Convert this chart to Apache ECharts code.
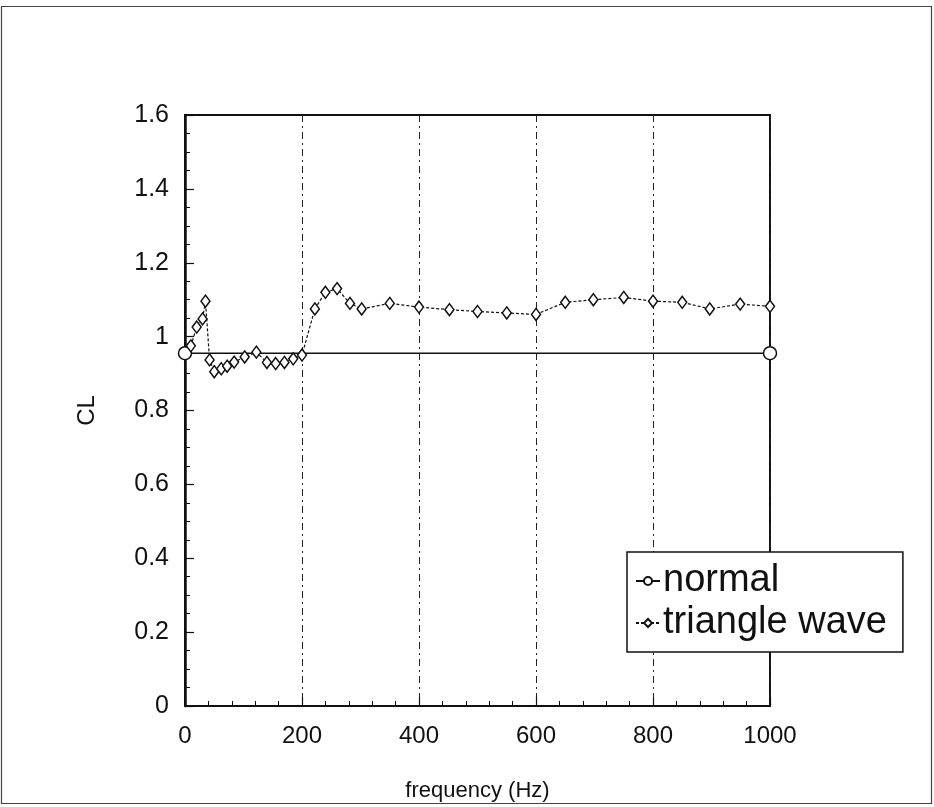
<!DOCTYPE html>
<html>
<head>
<meta charset="utf-8">
<style>html,body{margin:0;padding:0;background:#fff;}#c{width:934px;height:807px;}</style>
<script src="https://cdn.jsdelivr.net/npm/echarts@6/dist/echarts.min.js"></script>
</head>
<body>
<div id="c"></div>
<script>
const xTicks = [0, 200, 400, 600, 800, 1000];
const yTicks = [0, 0.2, 0.4, 0.6, 0.8, 1, 1.2, 1.4, 1.6];
const normalFreq = [0, 1000];
const normalCL = [0.955, 0.955];
const triFreq = [10, 20, 30, 35, 42, 50, 62, 72, 84, 102, 122, 140, 155, 170, 185, 200, 222, 240, 260, 282, 302, 350, 400, 452, 500, 550, 600, 650, 698, 750, 800, 850, 897, 949, 1000];
const triCL = [0.975, 1.026, 1.048, 1.096, 0.937, 0.905, 0.913, 0.92, 0.931, 0.945, 0.958, 0.93, 0.927, 0.93, 0.94, 0.95, 1.075, 1.12, 1.13, 1.09, 1.075, 1.09, 1.08, 1.073, 1.068, 1.064, 1.06, 1.093, 1.1, 1.106, 1.096, 1.093, 1.075, 1.088, 1.082];

const FONT = '"Liberation Sans", Arial, Helvetica, sans-serif';
const chart = echarts.init(document.getElementById('c'), null, {renderer: 'canvas'});
chart.setOption({
  backgroundColor: '#fff',
  animation: false,
  textStyle: {fontFamily: FONT, color: '#111'},
  graphic: [{
    type: 'rect', shape: {x: 1.5, y: 6.5, width: 930, height: 797},
    style: {fill: 'none', stroke: '#444', lineWidth: 1.2}, z: -10
  }],
  grid: {left: 185, right: 164, top: 115, bottom: 98, show: true, borderColor: '#111', borderWidth: 2, backgroundColor: 'transparent'},
  legend: {
    left: 627, top: 552, orient: 'vertical',
    padding: [10, 16, 10, 8], itemGap: 4,
    backgroundColor: '#fff', borderColor: '#111', borderWidth: 1.5, borderRadius: 0,
    itemWidth: 24, itemHeight: 10,
    textStyle: {fontFamily: FONT, fontSize: 38, color: '#111', padding: [0, 0, 0, -2]},
    data: ['normal', 'triangle wave']
  },
  xAxis: {
    type: 'value', min: 0, max: 1000, interval: 200,
    name: 'frequency (Hz)', nameLocation: 'middle', nameGap: 74,
    nameTextStyle: {fontFamily: FONT, fontSize: 22, color: '#111'},
    axisLine: {lineStyle: {color: '#111', width: 2}},
    axisTick: {inside: true, length: 9, lineStyle: {color: '#111', width: 1.2}},
    minorTick: {show: true, splitNumber: 5, length: 5, lineStyle: {color: '#111', width: 1}},
    axisLabel: {margin: 18, fontSize: 24, color: '#111', fontFamily: FONT,
      customValues: xTicks, formatter: v => String(v)},
    splitLine: {show: true, lineStyle: {color: '#222', width: 1, type: [7, 4, 2, 4]}}
  },
  yAxis: {
    type: 'value', min: 0, max: 1.6, interval: 0.2,
    name: 'CL', nameLocation: 'middle', nameGap: 86,
    nameTextStyle: {fontFamily: FONT, fontSize: 24, color: '#111'},
    axisLine: {show: true, lineStyle: {color: '#111', width: 2.5}},
    axisTick: {show: true, inside: true, length: 9, lineStyle: {color: '#111', width: 1.2}},
    minorTick: {show: true, splitNumber: 4, length: 5, lineStyle: {color: '#111', width: 1}},
    axisLabel: {margin: 16, fontSize: 25, color: '#111', fontFamily: FONT,
      customValues: yTicks, formatter: v => String(v)},
    splitLine: {show: false}
  },
  series: [
    {
      name: 'normal', type: 'line',
      data: normalFreq.map((f, i) => [f, normalCL[i]]),
      symbol: 'circle', symbolSize: 13, showSymbol: true,
      itemStyle: {color: '#fff', borderColor: '#111', borderWidth: 1.5},
      lineStyle: {color: '#111', width: 1.5},
      z: 3
    },
    {
      name: 'triangle wave', type: 'line',
      data: triFreq.map((f, i) => [f, triCL[i]]),
      symbol: 'diamond', symbolSize: [9, 12], showSymbol: true,
      itemStyle: {color: '#fff', borderColor: '#111', borderWidth: 1.5},
      lineStyle: {color: '#111', width: 1.2, type: [3, 2]},
      z: 4
    }
  ]
});
</script>
</body>
</html>
